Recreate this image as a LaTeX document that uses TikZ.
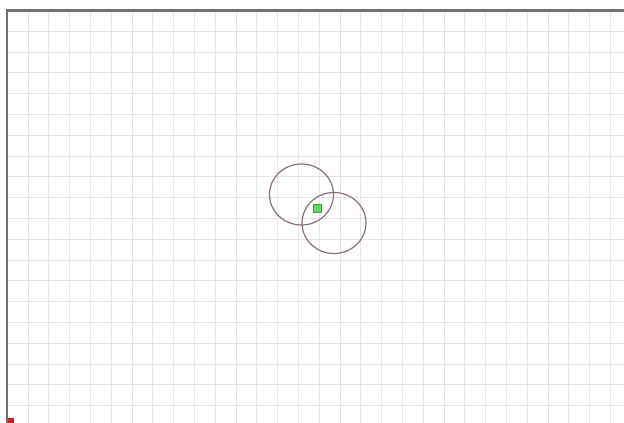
\documentclass[tikz,border=0pt]{standalone}
\usetikzlibrary{shapes.geometric}
\definecolor{gridgray}{HTML}{E4E4E4}
\definecolor{bordergray}{HTML}{707070}
\definecolor{ringbrown}{HTML}{8A7070}
\definecolor{markgreen}{HTML}{6DD36D}
\definecolor{markgreenedge}{HTML}{3FA53F}
\definecolor{markred}{HTML}{D02030}
\tikzset{
  gridline/.style={draw=gridgray, line width=0.9pt},
  frameline/.style={draw=bordergray, line width=2.2pt},
  ring/.style={ellipse, draw=ringbrown, line width=1.2pt, minimum width=64pt, minimum height=61pt, inner sep=0pt},
  marker/.style={rectangle, fill=markgreen, draw=markgreenedge, line width=0.6pt, minimum size=8pt, inner sep=0pt},
  redmark/.style={rectangle, fill=markred, minimum size=6pt, inner sep=0pt}
}
\begin{document}
\begin{tikzpicture}[x=1pt,y=-1pt]
\useasboundingbox (0,0) rectangle (624,423);
\fill[white] (0,0) rectangle (624,423);
\foreach \i in {0,...,29} \draw[gridline] ({7.3+20.8*\i},10.5) -- ({7.3+20.8*\i},423);
\foreach \j in {0,...,19} \draw[gridline] (7.3,{10.5+20.8*\j}) -- (624,{10.5+20.8*\j});
\coordinate (tl) at (7.3,10.5);
\coordinate (tr) at (624,10.5);
\coordinate (bl) at (7.3,423);
\draw[frameline] (bl) -- (tl) -- (tr);
\node[ring] (c1) at (301.5,194.5) {};
\node[ring] (c2) at (334,223) {};
\node[marker] (g) at (317.5,208.5) {};
\node[redmark] (r) at (11,421) {};
\end{tikzpicture}
\end{document}
